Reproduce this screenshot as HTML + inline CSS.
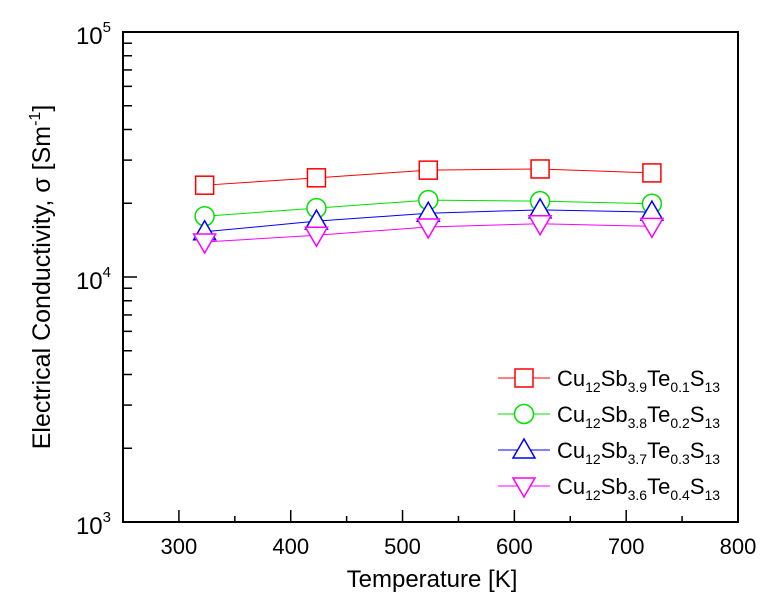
<!DOCTYPE html>
<html><head><meta charset="utf-8"><style>
body{margin:0;background:#fff;}
svg{display:block;font-family:"Liberation Sans",Arial,sans-serif;}
</style></head><body>
<svg id="chart" width="777" height="607">
<g id="axes"></g><g id="series"></g><g id="legend"></g>
</svg>
<script>
const temps=[323,423,523,623,723];
const s1=[23700,25400,27300,27600,26600];
const s2=[17700,19100,20600,20400,19900];
const s3=[15300,16900,18200,18800,18400];
const s4=[13900,14800,16000,16500,16100];
const xTicks=[300,400,500,600,700,800];
const yDecades=[3,4,5];
const seriesNames=[["3.9","0.1"],["3.8","0.2"],["3.7","0.3"],["3.6","0.4"]];
const colors=["#ff0000","#00e000","#0000ff","#ff00ff"];
const markers=["square","circle","triangle","tridown"];

const L=123,R=738,T=32,B=522;
const x=v=>L+(v-250)*(R-L)/550;
const y=v=>B-(Math.log10(v)-3)*(B-T)/2;
const NS="http://www.w3.org/2000/svg";
function mk(tag,attrs,parent){const e=document.createElementNS(NS,tag);for(const k in attrs)e.setAttribute(k,attrs[k]);parent.appendChild(e);return e;}
const ax=document.getElementById('axes');
const frame=mk('rect',{x:L,y:T,width:R-L,height:B-T,fill:'none',stroke:'#000','stroke-width':2},ax);


for(let v=250;v<=800;v+=50){
  if(v===250||v===800)continue;
  const major=v%100===0;
  const t=mk('line',{x1:x(v),x2:x(v),y1:B,y2:B-(major?12:6),stroke:'#000','stroke-width':1.5},ax);
  
  
}
xTicks.forEach(v=>{
  const t=mk('text',{x:x(v),y:B+32,'text-anchor':'middle','font-size':22},ax);t.textContent=v;
  
  
});
for(let d=3;d<5;d++){for(let m=1;m<10;m++){
  const v=m*Math.pow(10,d);
  if(m===1&&d===3)continue;
  const t=mk('line',{x1:L,x2:L+(m===1?14:9),y1:y(v),y2:y(v),stroke:'#000','stroke-width':1.5},ax);
  
  
}}
yDecades.forEach(d=>{
  const t=mk('text',{x:L-12,y:y(Math.pow(10,d))+12,'text-anchor':'end','font-size':24},ax);
  t.innerHTML='10<tspan dy="-12" font-size="15">'+d+'</tspan>';
  
  
});
const xt=mk('text',{x:432,y:587,'text-anchor':'middle','font-size':24},ax);xt.textContent='Temperature [K]';


const yt=mk('text',{x:0,y:0,'text-anchor':'middle','font-size':25,transform:'translate(50,277) rotate(-90)'},ax);
yt.innerHTML='Electrical Conductivity, σ [Sm<tspan dy="-10" font-size="16">-1</tspan><tspan dy="10">]</tspan>';



function marker(type,cx,cy,col,parent){
  let e;
  if(type==='square')e=mk('rect',{x:cx-9,y:cy-9,width:18,height:18},parent);
  else if(type==='circle')e=mk('circle',{cx:cx,cy:cy,r:9.5},parent);
  else if(type==='triangle')e=mk('polygon',{points:`${cx},${cy-11} ${cx-11},${cy+8} ${cx+11},${cy+8}`},parent);
  else e=mk('polygon',{points:`${cx},${cy+11} ${cx-11},${cy-8} ${cx+11},${cy-8}`},parent);
  e.setAttribute('fill','#fff');e.setAttribute('stroke',col);e.setAttribute('stroke-width',1.5);
  return e;
}
const sg=document.getElementById('series');
[s1,s2,s3,s4].forEach((s,i)=>{
  const g=mk('g',{},sg);
  
  
  const p=mk('polyline',{points:temps.map((t,j)=>x(t)+','+y(s[j])).join(' '),fill:'none',stroke:colors[i],'stroke-width':1},g);
  
  
  temps.forEach((t,j)=>{
    const m=marker(markers[i],x(t),y(s[j]),colors[i],g);
    
    
  });
});
const lg=document.getElementById('legend');
seriesNames.forEach((n,i)=>{
  const cy=378+i*36;
  const g=mk('g',{},lg);
  
  
  mk('line',{x1:498,x2:550,y1:cy,y2:cy,stroke:colors[i],'stroke-width':1},g);
  marker(markers[i],524,cy,colors[i],g);
  const t=mk('text',{x:557,y:cy+8,'font-size':22},g);
  t.innerHTML=`Cu<tspan dy="6" font-size="14">12</tspan><tspan dy="-6">Sb</tspan><tspan dy="6" font-size="14">${n[0]}</tspan><tspan dy="-6">Te</tspan><tspan dy="6" font-size="14">${n[1]}</tspan><tspan dy="-6">S</tspan><tspan dy="6" font-size="14">13</tspan>`;
});
</script>
</body></html>
